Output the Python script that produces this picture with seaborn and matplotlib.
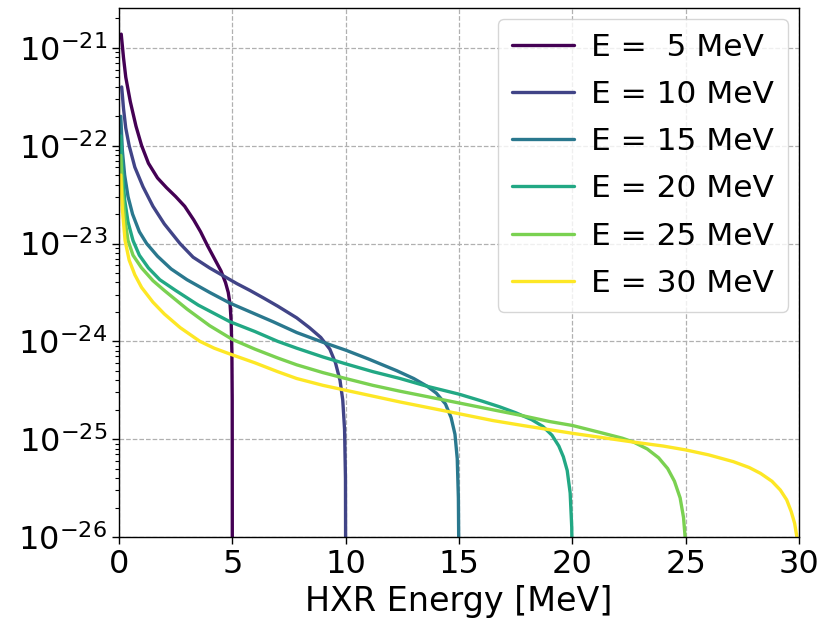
import numpy as np
import pandas as pd
import matplotlib
matplotlib.use("Agg")
import matplotlib.pyplot as plt
import seaborn as sns

# values: photon energy [MeV] and log10(cross section)
e5_x = [0.1, 0.2, 0.3, 0.5, 0.75, 1.0, 1.3, 1.7, 2.1, 2.5, 2.9, 3.3, 3.6, 3.9, 4.2, 4.5, 4.7, 4.82,
        4.9, 4.95, 4.98, 4.995, 5.0]
e5_log = [-20.86, -21.1, -21.3, -21.55, -21.8, -22.0, -22.18, -22.33, -22.43, -22.52, -22.62, -22.76,
          -22.88, -23.02, -23.15, -23.28, -23.4, -23.5, -23.62, -23.8, -24.1, -24.6, -26.5]

e10_x = [0.12, 0.2, 0.3, 0.45, 0.7, 1.06, 1.5, 2.0, 2.69, 3.27, 4.0, 4.6, 5.2, 5.78, 6.4, 7.0, 7.84,
         8.4, 8.9, 9.3, 9.55, 9.75, 9.87, 9.95, 9.99, 10.0]
e10_log = [-21.4, -21.62, -21.82, -22.0, -22.22, -22.42, -22.62, -22.8, -23.0, -23.14, -23.25, -23.33,
           -23.41, -23.48, -23.56, -23.64, -23.76, -23.86, -23.96, -24.08, -24.22, -24.4, -24.6, -24.9,
           -25.4, -26.5]

e15_x = [0.08, 0.15, 0.25, 0.4, 0.6, 0.9, 1.22, 1.7, 2.3, 3.0, 4.0, 4.9, 5.8, 6.8, 7.84, 9.0, 10.0,
         11.0, 12.25, 13.0, 13.6, 14.0, 14.4, 14.65, 14.82, 14.92, 14.97, 15.0]
e15_log = [-21.7, -22.05, -22.3, -22.52, -22.7, -22.88, -23.0, -23.13, -23.26, -23.37, -23.5, -23.61,
           -23.7, -23.8, -23.91, -24.01, -24.09, -24.18, -24.3, -24.38, -24.46, -24.53, -24.64, -24.78,
           -24.95, -25.2, -25.6, -26.5]

e20_x = [0.08, 0.15, 0.25, 0.4, 0.62, 0.9, 1.3, 1.8, 2.5, 3.5, 4.9, 6.0, 7.0, 7.84, 9.0, 10.0, 11.2,
         12.4, 13.6, 15.0, 16.0, 16.8, 17.5, 18.2, 18.7, 19.1, 19.4, 19.6, 19.77, 19.9, 19.97, 20.0]
e20_log = [-21.9, -22.25, -22.55, -22.78, -22.97, -23.12, -23.25, -23.37, -23.48, -23.63, -23.8, -23.9,
           -24.0, -24.07, -24.16, -24.23, -24.31, -24.38, -24.46, -24.54, -24.61, -24.67, -24.73, -24.8,
           -24.87, -24.96, -25.07, -25.18, -25.32, -25.55, -25.9, -26.5]

e25_x = [0.08, 0.15, 0.26, 0.4, 0.62, 1.0, 1.5, 2.0, 3.0, 4.0, 5.0, 6.0, 7.0, 7.84, 9.0, 10.0, 11.2,
         12.4, 13.7, 15.0, 16.5, 17.8, 19.0, 20.0, 21.2, 22.2, 22.7, 23.3, 23.8, 24.2, 24.5, 24.75,
         24.9, 24.97, 25.0]
e25_log = [-22.1, -22.45, -22.75, -22.97, -23.12, -23.25, -23.38, -23.48, -23.67, -23.84, -23.98, -24.08,
           -24.17, -24.24, -24.32, -24.38, -24.45, -24.51, -24.57, -24.63, -24.7, -24.76, -24.82, -24.86,
           -24.93, -24.99, -25.03, -25.1, -25.19, -25.3, -25.43, -25.6, -25.8, -26.0, -26.5]

e30_x = [0.08, 0.15, 0.27, 0.45, 0.7, 1.0, 1.5, 2.0, 2.7, 3.57, 4.2, 4.9, 6.0, 7.0, 7.84, 9.0, 10.0,
         11.2, 12.4, 13.7, 15.0, 16.5, 17.8, 18.9, 20.0, 21.2, 22.7, 24.0, 25.0, 26.0, 27.1, 27.8, 28.3,
         28.8, 29.17, 29.45, 29.65, 29.8, 29.9, 29.97]
e30_log = [-22.3, -22.65, -22.97, -23.17, -23.32, -23.45, -23.6, -23.72, -23.86, -24.0, -24.07, -24.13,
           -24.22, -24.31, -24.38, -24.45, -24.5, -24.56, -24.62, -24.68, -24.74, -24.81, -24.86, -24.9,
           -24.94, -24.98, -25.03, -25.07, -25.11, -25.16, -25.23, -25.29, -25.35, -25.43, -25.52, -25.62,
           -25.74, -25.86, -26.0, -26.2]

beam_energies = [5, 10, 15, 20, 25, 30]
curves = [(e5_x, e5_log), (e10_x, e10_log), (e15_x, e15_log),
          (e20_x, e20_log), (e25_x, e25_log), (e30_x, e30_log)]


def build_frame():
    rows = []
    for E, (xs, logs) in zip(beam_energies, curves):
        label = f"E ={E:3d} MeV"
        for x, lg in zip(xs, logs):
            rows.append({"HXR Energy": x, "sigma": 10.0 ** lg, "label": label})
    return pd.DataFrame(rows)


def main():
    df = build_frame()
    sns.set_style("ticks")
    plt.rcParams["font.family"] = ["DejaVu Sans"]
    plt.rcParams["mathtext.fontset"] = "dejavusans"
    plt.rcParams["text.color"] = "black"
    plt.rcParams["xtick.color"] = "black"
    plt.rcParams["ytick.color"] = "black"
    plt.rcParams["axes.labelcolor"] = "black"

    colors = [tuple(c) for c in plt.cm.viridis(np.linspace(0, 1, 6))]
    labels = [f"E ={E:3d} MeV" for E in beam_energies]

    fig = plt.figure(figsize=(8.29, 6.24), dpi=100)
    ax = fig.add_axes([0.1435, 0.1394, 0.8205, 0.8477])

    sns.lineplot(data=df, x="HXR Energy", y="sigma", hue="label", hue_order=labels,
                 palette=colors, estimator=None, sort=False, linewidth=2.4, ax=ax)

    ax.set_yscale("log")
    ax.set_xlim(0, 30)
    ax.set_ylim(1e-26, 2.55e-21)
    ax.set_xticks([0, 5, 10, 15, 20, 25, 30])
    ax.set_yticks([1e-26, 1e-25, 1e-24, 1e-23, 1e-22, 1e-21])
    ax.grid(True, which="major", linestyle="--", color="#b0b0b0", linewidth=0.9)
    ax.set_axisbelow(True)

    ax.set_xlabel("HXR Energy [MeV]", fontsize=24)
    ax.set_ylabel("")
    ax.tick_params(axis="both", which="major", labelsize=23, length=5, width=1)
    ax.tick_params(axis="y", which="minor", length=3, width=0.8)
    for s in ax.spines.values():
        s.set_color("black")
        s.set_linewidth(1.0)

    leg = ax.legend(loc="upper right", fontsize=22.5, frameon=True, handlelength=2.0,
                    handletextpad=0.55, labelspacing=0.58, borderaxespad=0.35, borderpad=0.45)
    leg.get_frame().set_edgecolor("#cccccc")
    for line in leg.get_lines():
        line.set_linewidth(2.4)

    fig.savefig("out.png", dpi=100)


if __name__ == "__main__":
    main()
